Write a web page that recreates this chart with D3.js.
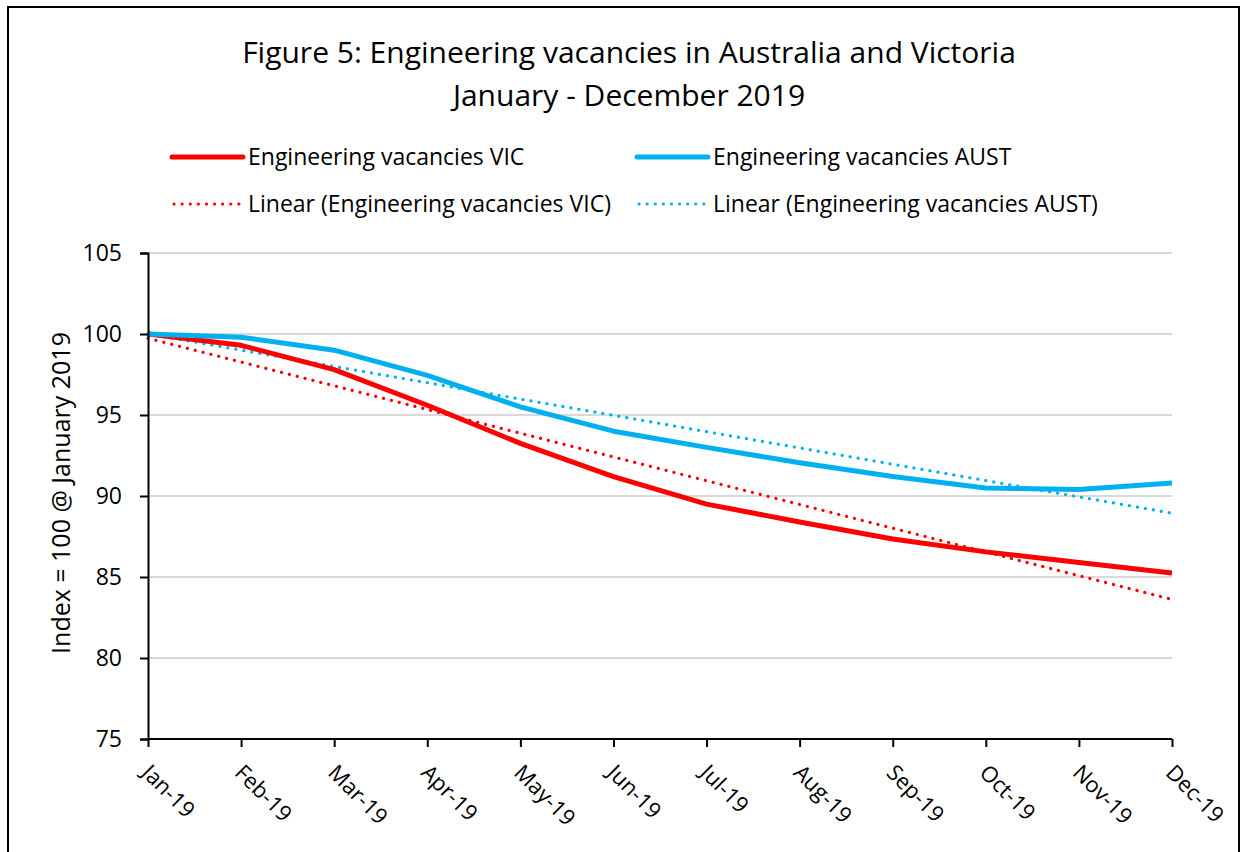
<!DOCTYPE html>
<html><head><meta charset="utf-8">
<script src="https://cdn.jsdelivr.net/npm/d3@7"></script>
<style>
html,body{margin:0;padding:0;background:#fff;}
svg{display:block;font-family:"Open Sans","Noto Sans",sans-serif;}
</style></head>
<body>
<svg id="chart" width="1247" height="852"></svg>
<script>
const months = ["Jan-19","Feb-19","Mar-19","Apr-19","May-19","Jun-19","Jul-19","Aug-19","Sep-19","Oct-19","Nov-19","Dec-19"];
const vic = [100, 99.3, 97.8, 95.6, 93.25, 91.2, 89.5, 88.4, 87.35, 86.55, 85.9, 85.25];
const aust = [100, 99.8, 99.0, 97.45, 95.5, 94.0, 93.0, 92.05, 91.2, 90.5, 90.4, 90.8];
const yTicks = [75, 80, 85, 90, 95, 100, 105];
const titleLines = ["Figure 5: Engineering vacancies in Australia and Victoria", "January - December 2019"];
const seriesNames = ["Engineering vacancies VIC", "Engineering vacancies AUST"];
const trendNames = ["Linear (Engineering vacancies VIC)", "Linear (Engineering vacancies AUST)"];
const yTitle = "Index = 100 @ January 2019";

const RED = "#FF0000", BLUE = "#00B0F0";
const svg = d3.select("#chart");

// outer border
svg.append("rect").attr("x", 8).attr("y", 7).attr("width", 1231).attr("height", 860)
  .attr("fill", "none").attr("stroke", "#000").attr("stroke-width", 2);

// title
svg.selectAll("text.title").data(titleLines).join("text")
  .attr("class", "title")
  .attr("x", 629).attr("y", (d, i) => 63 + i * 43)
  .attr("text-anchor", "middle").attr("font-size", 30).attr("fill", "#000")
  .text(d => d);

const x = d3.scalePoint().domain(months).range([148, 1172]);
const y = d3.scaleLinear().domain([75, 105]).range([739, 253]);

// gridlines
svg.append("g").selectAll("line").data(yTicks.filter(t => t > 75)).join("line")
  .attr("x1", 148).attr("x2", 1172)
  .attr("y1", d => y(d)).attr("y2", d => y(d))
  .attr("stroke", "#d9d9d9").attr("stroke-width", 2);

// trend lines (least-squares fit of each series)
function linfit(vals) {
  const n = vals.length, mx = (n - 1) / 2, my = d3.mean(vals);
  let sxy = 0, sxx = 0;
  vals.forEach((v, i) => { sxy += (i - mx) * (v - my); sxx += (i - mx) * (i - mx); });
  const b = sxy / sxx, a = my - b * mx;
  return vals.map((v, i) => a + b * i);
}
const line = d3.line().x((d, i) => x(months[i])).y(d => y(d));

[[aust, BLUE], [vic, RED]].forEach(([vals, col]) => {
  svg.append("path").attr("d", line(linfit(vals)))
    .attr("fill", "none").attr("stroke", col).attr("stroke-width", 3.2)
    .attr("stroke-linecap", "round").attr("stroke-dasharray", "0.1 8");
});
[[vic, RED], [aust, BLUE]].forEach(([vals, col]) => {
  svg.append("path").attr("d", line(vals))
    .attr("fill", "none").attr("stroke", col).attr("stroke-width", 5)
    .attr("stroke-linejoin", "round").attr("stroke-linecap", "butt");
});

// y axis
const yAxis = svg.append("g").attr("transform", "translate(148,0)")
  .call(d3.axisLeft(y).tickValues(yTicks).tickSize(8).tickPadding(18));
yAxis.select(".domain").attr("stroke", "#000").attr("stroke-width", 2);
yAxis.selectAll(".tick line").attr("stroke", "#000").attr("stroke-width", 2);
yAxis.selectAll(".tick text").attr("font-size", 23).attr("fill", "#000")
  .attr("font-family", "'Open Sans','Noto Sans',sans-serif");

// x axis
const xAxis = svg.append("g").attr("transform", "translate(0,739)")
  .call(d3.axisBottom(x).tickSize(8).tickPadding(0));
xAxis.select(".domain").attr("stroke", "#000").attr("stroke-width", 2).attr("d", "M148,0H1172");
xAxis.selectAll(".tick line").attr("stroke", "#000").attr("stroke-width", 2);
xAxis.selectAll(".tick text")
  .attr("font-size", 22).attr("fill", "#000")
  .attr("font-family", "'Open Sans','Noto Sans',sans-serif")
  .attr("text-anchor", "start").attr("dy", null).attr("y", 0)
  .attr("transform", "translate(-8,35) rotate(45)");

// y title
svg.append("text").attr("transform", "translate(70,493) rotate(-90)")
  .attr("text-anchor", "middle").attr("font-size", 25).attr("fill", "#000")
  .text(yTitle);

// legend
const legend = [
  {name: seriesNames[0], col: RED, dash: null, x: 172, y: 157},
  {name: seriesNames[1], col: BLUE, dash: null, x: 637, y: 157},
  {name: trendNames[0], col: RED, dash: "0.1 8", x: 172, y: 204},
  {name: trendNames[1], col: BLUE, dash: "0.1 8", x: 637, y: 204}
];
const lg = svg.append("g").selectAll("g").data(legend).join("g");
lg.append("line").attr("x1", d => d.x + (d.dash ? 2 : 0)).attr("x2", d => d.x + 71)
  .attr("y1", d => d.y).attr("y2", d => d.y)
  .attr("stroke", d => d.col).attr("stroke-width", d => d.dash ? 3.2 : 5)
  .attr("stroke-linecap", "round").attr("stroke-dasharray", d => d.dash);
lg.append("text").attr("x", d => d.x + 76).attr("y", d => d.y + 8)
  .attr("font-size", 23).attr("fill", "#000").text(d => d.name);
</script>
</body></html>
